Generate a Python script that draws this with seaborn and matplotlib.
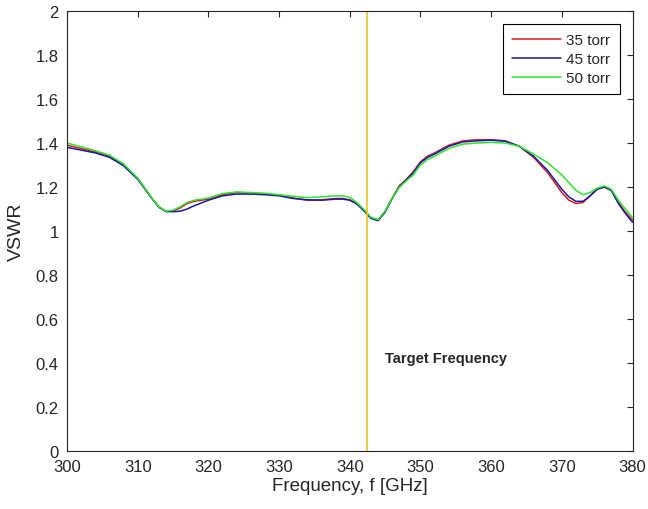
import numpy as np
import pandas as pd
import matplotlib
matplotlib.use("Agg")
import matplotlib.pyplot as plt
import seaborn as sns

freq = [300, 302, 304, 306, 308, 310, 312, 313, 314, 315, 316, 317, 318, 320, 322,
        324, 326, 328, 330, 332, 334, 336, 338, 339, 340, 341, 342, 343, 344, 345,
        346, 347, 348, 349, 350, 351, 352, 354, 356, 358, 360, 362, 364, 366, 368,
        370, 371, 372, 373, 374, 375, 376, 377, 378, 379, 380]

vswr_35 = [1.39, 1.375, 1.36, 1.34, 1.30, 1.24, 1.15, 1.11, 1.09, 1.09, 1.105, 1.125,
           1.135, 1.145, 1.165, 1.175, 1.172, 1.168, 1.163, 1.15, 1.14, 1.142, 1.148,
           1.148, 1.142, 1.125, 1.095, 1.06, 1.05, 1.09, 1.15, 1.205, 1.235, 1.27, 1.315,
           1.34, 1.355, 1.39, 1.41, 1.415, 1.415, 1.41, 1.385, 1.335, 1.265, 1.175,
           1.14, 1.125, 1.13, 1.16, 1.19, 1.20, 1.185, 1.13, 1.085, 1.05]

vswr_45 = [1.38, 1.368, 1.355, 1.335, 1.297, 1.235, 1.148, 1.108, 1.088, 1.088, 1.09,
           1.10, 1.115, 1.14, 1.16, 1.168, 1.168, 1.165, 1.16, 1.148, 1.142, 1.14,
           1.145, 1.145, 1.14, 1.123, 1.092, 1.057, 1.047, 1.085, 1.148, 1.2, 1.232,
           1.265, 1.31, 1.335, 1.35, 1.385, 1.405, 1.41, 1.413, 1.408, 1.385, 1.34,
           1.275, 1.19, 1.155, 1.135, 1.135, 1.16, 1.19, 1.20, 1.185, 1.125, 1.08, 1.04]

vswr_50 = [1.40, 1.383, 1.365, 1.345, 1.305, 1.24, 1.15, 1.11, 1.09, 1.095, 1.11, 1.13,
           1.14, 1.15, 1.17, 1.178, 1.175, 1.172, 1.165, 1.158, 1.152, 1.155, 1.16,
           1.16, 1.153, 1.13, 1.098, 1.062, 1.052, 1.09, 1.15, 1.198, 1.228, 1.255,
           1.30, 1.325, 1.34, 1.375, 1.395, 1.40, 1.403, 1.40, 1.385, 1.35, 1.31,
           1.255, 1.22, 1.185, 1.165, 1.175, 1.195, 1.205, 1.19, 1.14, 1.10, 1.06]

labels = ["35 torr", "45 torr", "50 torr"]
colors = ["#d81b1b", "#1a1aa6", "#2ee62e"]
target_freq = 342.5

df = pd.DataFrame({
    "freq": freq * 3,
    "vswr": vswr_35 + vswr_45 + vswr_50,
    "pressure": [labels[0]] * len(freq) + [labels[1]] * len(freq) + [labels[2]] * len(freq),
})

sns.set_style("white")
plt.rcParams["font.family"] = ["Liberation Sans", "DejaVu Sans"]

fig = plt.figure(figsize=(6.48, 5.10), dpi=100)
ax = fig.add_axes([0.1034, 0.1137, 0.8727, 0.8627])

sns.lineplot(data=df, x="freq", y="vswr", hue="pressure", palette=colors,
             linewidth=1.1, ax=ax)

ax.axvline(target_freq, color="#e8c41c", linewidth=1.2)
ax.text(345.0, 0.425, "Target Frequency", fontsize=10.5, fontweight="bold",
        color="#262626", va="center", ha="left")

ax.set_xlim(300, 380)
ax.set_ylim(0, 2)
ax.set_xticks(np.arange(300, 381, 10))
ax.set_yticks(np.arange(0, 2.01, 0.2))
ax.set_yticklabels(["0", "0.2", "0.4", "0.6", "0.8", "1", "1.2", "1.4", "1.6", "1.8", "2"])
ax.tick_params(direction="in", top=True, right=True, length=4, width=0.8,
               labelsize=12, colors="#262626", labelcolor="#262626", pad=6)
for s in ax.spines.values():
    s.set_visible(True)
    s.set_color("#262626")
    s.set_linewidth(0.8)

ax.set_xlabel("Frequency, f [GHz]", fontsize=13.5, color="#262626", labelpad=2)
ax.set_ylabel("VSWR", fontsize=14, color="#262626", labelpad=8)

leg = ax.legend(loc="upper right", fontsize=11, frameon=True, fancybox=False,
                edgecolor="black", framealpha=1, borderpad=0.6, handlelength=3.2,
                labelspacing=0.32, handletextpad=0.35, borderaxespad=0.85)
leg.get_frame().set_linewidth(0.8)

fig.savefig("out.png", dpi=100)
